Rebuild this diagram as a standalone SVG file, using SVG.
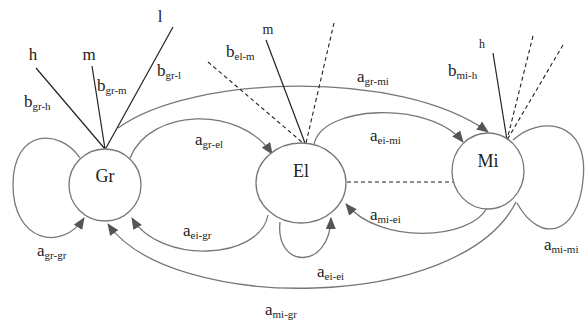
<svg xmlns="http://www.w3.org/2000/svg" width="585" height="320" viewBox="0 0 585 320">
<style>
.node{fill:#fff;stroke:#777;stroke-width:1.3}
.nl{font-family:"Liberation Serif",serif;font-size:18px;fill:#222;text-anchor:middle}
.lb{font-family:"Liberation Serif",serif;font-size:17px;fill:#222}
.sm{font-family:"Liberation Serif",serif;fill:#222;text-anchor:middle}
.sub{font-size:11px}
.e{fill:none;stroke:#777;stroke-width:1.3}
.b{fill:none;stroke:#222;stroke-width:1.2}
.d{fill:none;stroke:#222;stroke-width:1.1;stroke-dasharray:4 3}
</style>
<defs>
<marker id="ah" viewBox="0 0 12 10" refX="11" refY="5" markerWidth="12" markerHeight="10" markerUnits="userSpaceOnUse" orient="auto">
<path d="M0,0 L12,5 L0,10 Z" fill="#555"/>
</marker>
</defs>
<g id="connectors">
<path class="e" d="M80 158 C60 128,13 128,13 185 C13 242,62 252,84 218" marker-end="url(#ah)"/>
<path class="e" d="M130 158 C150 108,240 105,272 154" marker-end="url(#ah)"/>
<path class="e" d="M118 128 C190 75,400 68,488 132" marker-end="url(#ah)"/>
<path class="e" d="M314 145 C320 105,430 100,463 142" marker-end="url(#ah)"/>
<path class="e" d="M487 208 C470 240,380 245,346 204" marker-end="url(#ah)"/>
<path class="e" d="M268 215 C260 260,160 265,132 218" marker-end="url(#ah)"/>
<path class="e" d="M280 222 C275 270,330 270,331 218" marker-end="url(#ah)"/>
<path class="e" d="M516 202 C460 313,170 313,108 224" marker-end="url(#ah)"/>
<path class="e" d="M513 140 C540 115,590 120,583 180 C578 235,540 245,517 203"/>
<path class="d" d="M347 182 L453 182"/>
<path class="b" d="M36 68 L105 149 M92 66 L105 149 M173 27 L106 148"/>
<path class="b" d="M266 40 L305 143"/>
<path class="d" d="M208 62 L303 143 M334 23 L306 143"/>
<path class="b" d="M493 53 L507 140"/>
<path class="d" d="M533 36 L507 140 M563 45 L507 140"/>
</g>
<g id="Gr"><circle class="node" cx="105" cy="185" r="36"/><text class="nl" x="105" y="182">Gr</text></g>
<g id="El"><ellipse class="node" cx="301" cy="183" rx="45" ry="40"/><text class="nl" x="301" y="177">El</text></g>
<g id="Mi"><ellipse class="node" cx="488" cy="171" rx="36" ry="38"/><text class="nl" x="488" y="167">Mi</text></g>
<g id="labels">
<text class="lb" x="33" y="60" text-anchor="middle">h</text>
<text class="lb" x="89" y="60" text-anchor="middle">m</text>
<text class="lb" x="160" y="22" text-anchor="middle">l</text>
<text class="sm" x="268" y="34" font-size="14">m</text>
<text class="sm" x="482" y="48" font-size="12">h</text>
<text class="lb" x="24" y="107">b<tspan class="sub" dy="3">gr-h</tspan></text>
<text class="lb" x="97" y="91">b<tspan class="sub" dy="3">gr-m</tspan></text>
<text class="lb" x="157" y="76">b<tspan class="sub" dy="3">gr-l</tspan></text>
<text class="lb" x="226" y="57">b<tspan class="sub" dy="3">el-m</tspan></text>
<text class="lb" x="448" y="76">b<tspan class="sub" dy="3">mi-h</tspan></text>
<text class="lb" x="37" y="256">a<tspan class="sub" dy="3">gr-gr</tspan></text>
<text class="lb" x="195" y="145">a<tspan class="sub" dy="3">gr-el</tspan></text>
<text class="lb" x="357" y="82">a<tspan class="sub" dy="3">gr-mi</tspan></text>
<text class="lb" x="370" y="141">a<tspan class="sub" dy="3">ei-mi</tspan></text>
<text class="lb" x="370" y="220">a<tspan class="sub" dy="3">mi-ei</tspan></text>
<text class="lb" x="183" y="236">a<tspan class="sub" dy="3">ei-gr</tspan></text>
<text class="lb" x="317" y="277">a<tspan class="sub" dy="3">ei-ei</tspan></text>
<text class="lb" x="265" y="315">a<tspan class="sub" dy="3">mi-gr</tspan></text>
<text class="lb" x="544" y="250">a<tspan class="sub" dy="3">mi-mi</tspan></text>
</g>
</svg>
